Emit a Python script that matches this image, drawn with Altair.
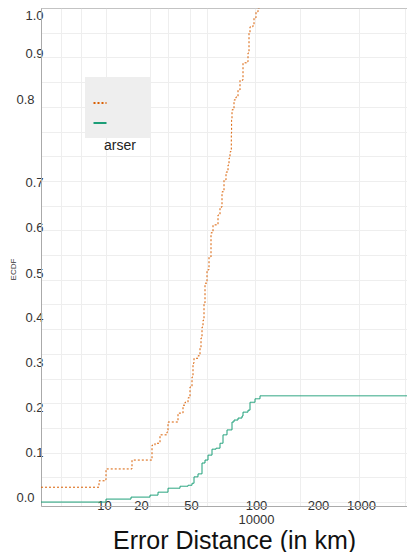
import altair as alt
import pandas as pd

# ---- data ----
series_names = ["Parser A", "Parser B"]
series_colors = ["#d95f02", "#1b9e77"]

orange_pos = [0, 56, 58, 64, 65, 90, 91, 109, 111, 114, 119, 126, 127, 136, 137,
              142, 144, 147, 149, 151, 152, 153, 157, 159, 160, 161, 162, 163, 164, 166,
              168, 170, 172, 176, 177, 179, 181, 183, 185, 187, 188, 189, 190, 190.3, 190.6,
              191, 193, 195, 197, 199, 202, 206, 207, 208, 209, 212, 213, 215, 217, 220]
orange_ecdf = [0.030, 0.030, 0.043, 0.045, 0.067, 0.067, 0.085, 0.085, 0.115, 0.119,
               0.136, 0.142, 0.162, 0.162, 0.180, 0.196, 0.202, 0.211, 0.233, 0.253,
               0.281, 0.291, 0.296, 0.312, 0.332, 0.354, 0.368, 0.403, 0.443, 0.470,
               0.496, 0.545, 0.561, 0.561, 0.581, 0.597, 0.628, 0.652, 0.668, 0.682,
               0.696, 0.709, 0.713, 0.747, 0.773, 0.794, 0.814, 0.820, 0.834, 0.854,
               0.889, 0.891, 0.909, 0.949, 0.962, 0.966, 0.980, 0.992, 1.0, 1.0]

green_pos = [0, 64, 65, 89, 90, 107, 109, 117, 127, 139, 147, 151, 153, 157, 161,
             164, 167, 171, 175, 179, 182, 186, 191, 193, 197, 201, 202, 207, 209, 214,
             219, 366]
green_ecdf = [0.0, 0.0, 0.006, 0.006, 0.010, 0.010, 0.014, 0.020, 0.028, 0.032,
              0.034, 0.038, 0.051, 0.057, 0.079, 0.085, 0.095, 0.107, 0.109, 0.119,
              0.136, 0.146, 0.162, 0.166, 0.170, 0.174, 0.182, 0.186, 0.202, 0.209,
              0.215, 0.215]

# x tick labels (garbled axis as in the reference)
x_label_pos = [63, 100, 150, 215, 277, 320]
x_label_text = [["10"], ["20"], ["50"], ["100", "10000"], ["200"], ["1000"]]
x_grid_pos = [20, 40, 65, 109, 127, 149, 166, 214, 259, 318, 364]

y_label_pos = [0.010, 0.101, 0.192, 0.283, 0.374, 0.463, 0.555, 0.646, 0.814, 0.907, 0.985]
y_label_text = ["0.0", "0.1", "0.2", "0.3", "0.4", "0.5", "0.6", "0.7", "0.8", "0.9", "1.0"]
y_grid_pos = [0.0, 0.05, 0.1, 0.15, 0.2, 0.25, 0.3, 0.35, 0.4, 0.45, 0.5,
              0.55, 0.6, 0.65, 0.7, 0.75, 0.8, 0.85, 0.9, 0.95]

legend_caption = ["arser"]

# ---- build table ----
rows = []
for i, (p, v) in enumerate(zip(orange_pos, orange_ecdf)):
    rows.append({"series": series_names[0], "pos": p, "ecdf": v, "idx": i})
for i, (p, v) in enumerate(zip(green_pos, green_ecdf)):
    rows.append({"series": series_names[1], "pos": p, "ecdf": v, "idx": i})
df = pd.DataFrame(rows)


def arr(a):
    return "[" + ",".join(repr(x) for x in a) + "]"


def sarr(a):
    out = []
    for t in a:
        if isinstance(t, list):
            out.append("[" + ",".join("'" + s + "'" for s in t) + "]")
        else:
            out.append("'" + t + "'")
    return "[" + ",".join(out) + "]"


x_vals = sorted(set(x_label_pos) | set(x_grid_pos))
y_vals = sorted(set(y_label_pos) | set(y_grid_pos))

x_label_expr = (f"indexof({arr(x_label_pos)}, datum.value) >= 0 ? "
                f"{sarr(x_label_text)}[indexof({arr(x_label_pos)}, datum.value)] : ''")
y_label_expr = (f"indexof({arr(y_label_pos)}, datum.value) >= 0 ? "
                f"{sarr(y_label_text)}[indexof({arr(y_label_pos)}, datum.value)] : ''")

x_axis = alt.Axis(
    values=x_vals, tickCount=200, labelExpr=x_label_expr, grid=True,
    gridOpacity={"condition": {"test": f"indexof({arr(x_grid_pos)}, datum.value) >= 0", "value": 1}, "value": 0},
    gridColor="#eeeeee", ticks=False, tickSize=0, domainColor="#aaaaaa",
    labelFontSize=13, labelColor="#333333", labelBaseline="top", labelPadding=-7,
    labelLineHeight=14, labelFlush=False, labelOverlap=False,
    title="Error Distance (in km)", titleFontSize=25, titleFontWeight="normal",
    titleColor="#111111", titleX=193, titleY=42, titleAlign="center",
    titleBaseline="alphabetic",
)
y_axis = alt.Axis(
    values=y_vals, tickCount=200, labelExpr=y_label_expr, grid=True,
    gridOpacity={"condition": {"test": f"indexof({arr(y_grid_pos)}, datum.value) >= 0", "value": 1}, "value": 0},
    gridColor="#eeeeee", ticks=False, tickSize=0, domainColor="#aaaaaa",
    labelFontSize=13, labelColor="#333333", labelBaseline="middle",
    labelPadding={"condition": {"test": "datum.value == 0.814 || datum.value == 0.01", "value": 7}, "value": -2},
    labelFlush=False, labelOverlap=False,
    title="ECDF", titleFontSize=8, titleFontWeight="normal", titleColor="#333333",
    titleX=-28, titleY=261, titleAngle=270, titleAlign="center", titleBaseline="middle",
)

xscale = alt.Scale(domain=[0, 366], nice=False, zero=False)
yscale = alt.Scale(domain=[-0.008, 1.0], nice=False, zero=False)

legend = alt.Legend(
    orient="none", legendX=44, legendY=69, fillColor="#eeeeee",
    title=" ", titleFontSize=6, titlePadding=5, padding=5,
    symbolType="stroke", symbolSize=169, symbolStrokeWidth=2,
    labelExpr="'nnn'", labelOpacity=0, labelFontSize=20, labelOffset=2, rowPadding=0,
)

lines = alt.Chart(df).mark_line(strokeWidth=1, interpolate="step-after").encode(
    x=alt.X("pos:Q", scale=xscale, axis=x_axis),
    y=alt.Y("ecdf:Q", scale=yscale, axis=y_axis),
    color=alt.Color("series:N", scale=alt.Scale(domain=series_names, range=series_colors), legend=legend),
    strokeDash=alt.StrokeDash("series:N", scale=alt.Scale(domain=series_names, range=[[2, 2], [1, 0]]), legend=legend),
    order="idx:Q",
)

top_border = alt.Chart(pd.DataFrame({"v": [1.0]})).mark_rule(color="#aaaaaa", strokeWidth=1).encode(
    y=alt.Y("v:Q", scale=yscale)
)

caption = alt.Chart(pd.DataFrame({"t": legend_caption})).mark_text(
    fontSize=14, color="#222222", align="center", baseline="middle"
).encode(x=alt.value(79), y=alt.value(138), text="t:N")

chart = alt.layer(lines, top_border, caption).properties(
    width=366, height=498,
    autosize=alt.AutoSizeParams(type="none"),
    padding={"left": 33, "top": 0, "right": 0, "bottom": 46},
    background="white",
).configure_view(stroke=None).configure(font="Liberation Sans")

chart.save("out.html", embed_options={"renderer": "svg", "actions": False})
